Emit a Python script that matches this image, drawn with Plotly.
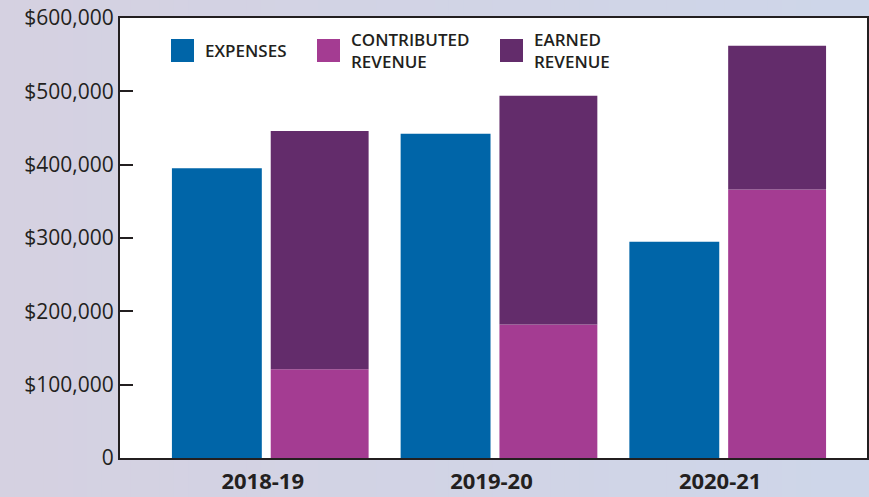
import plotly.graph_objects as go

# Data
years = ["2018-19", "2019-20", "2020-21"]
expenses = [395000, 442000, 295000]
contributed_revenue = [121000, 182000, 366000]
earned_revenue = [325000, 312000, 196000]

y_ticks = [0, 100000, 200000, 300000, 400000, 500000, 600000]
y_tick_labels = ["0", "$100,000", "$200,000", "$300,000", "$400,000", "$500,000", "$600,000"]

BLUE = "#0065a8"
MAGENTA = "#a43c92"
PURPLE = "#632c6b"
INK = "#231f20"

W, H = 869, 497
L, R, T, B = 120, 2, 18, 39
PW = W - L - R
PH = H - T - B


def px_x(p):
    return (p - L) / PW


def px_y(p):
    return (H - B - p) / PH


fig = go.Figure()

fig.add_trace(go.Bar(
    x=years, y=expenses, name="EXPENSES",
    marker=dict(color=BLUE, line_width=0),
    width=0.393, offset=-0.397, showlegend=False,
))
fig.add_trace(go.Bar(
    x=years, y=contributed_revenue, name="CONTRIBUTED REVENUE",
    marker=dict(color=MAGENTA, line_width=0),
    width=0.428, offset=0.035, showlegend=False,
))
fig.add_trace(go.Bar(
    x=years, y=earned_revenue, base=contributed_revenue, name="EARNED REVENUE",
    marker=dict(color=PURPLE, line_width=0),
    width=0.428, offset=0.035, showlegend=False,
))

# background gradient (lavender -> pale blue)
shapes = []
n = 60
c0 = (213, 209, 225)
c1 = (206, 214, 233)
for i in range(n):
    t = i / (n - 1)
    col = tuple(round(c0[k] + (c1[k] - c0[k]) * t) for k in range(3))
    shapes.append(dict(
        type="rect", xref="paper", yref="paper", layer="below",
        x0=px_x(W * i / n), x1=px_x(W * (i + 1) / n + 1),
        y0=px_y(H), y1=px_y(0),
        fillcolor="rgb(%d,%d,%d)" % col, line_width=0,
    ))
# white plot area on top of the gradient
shapes.append(dict(
    type="rect", xref="paper", yref="paper", layer="below",
    x0=0, x1=1, y0=0, y1=1, fillcolor="white", line_width=0,
))

# hand-built legend
legend_items = [
    ("EXPENSES", BLUE, 171),
    ("CONTRIBUTED<br>REVENUE", MAGENTA, 317),
    ("EARNED<br>REVENUE", PURPLE, 500),
]
annotations = []
for label, color, left in legend_items:
    shapes.append(dict(
        type="rect", xref="paper", yref="paper",
        x0=px_x(left), x1=px_x(left + 23), y0=px_y(62), y1=px_y(39),
        fillcolor=color, line_width=0,
    ))
    annotations.append(dict(
        text=label, xref="paper", yref="paper",
        x=px_x(left + 32), y=px_y(51), xanchor="left", yanchor="middle",
        align="left", showarrow=False,
        font=dict(family="Open Sans", size=17, color=INK, weight=600),
    ))

fig.update_layout(
    width=W, height=H,
    margin=dict(l=L, r=R, t=T, b=B, pad=0),
    barmode="overlay",
    paper_bgcolor="#d2d3e4",
    plot_bgcolor="white",
    shapes=shapes,
    annotations=annotations,
    showlegend=False,
    font=dict(family="Open Sans", color=INK),
)

fig.update_xaxes(
    range=[-0.624, 2.642], automargin=False,
    showline=True, linecolor=INK, linewidth=2, mirror=True,
    ticks="", showgrid=False, zeroline=False, ticklabelstandoff=3,
    tickfont=dict(family="Open Sans", size=22, color=INK, weight=700),
)
fig.update_yaxes(
    range=[0, 600000], automargin=False,
    tickvals=y_ticks, ticktext=y_tick_labels,
    showline=True, linecolor=INK, linewidth=2, mirror=True,
    ticks="inside", ticklen=13, tickwidth=2, tickcolor=INK,
    showgrid=False, zeroline=False,
    tickfont=dict(family="Open Sans", size=21, color=INK),
)

fig.write_html(
    "out.html",
    config={"displayModeBar": False},
    post_script="document.body.style.margin='0px';",
)
